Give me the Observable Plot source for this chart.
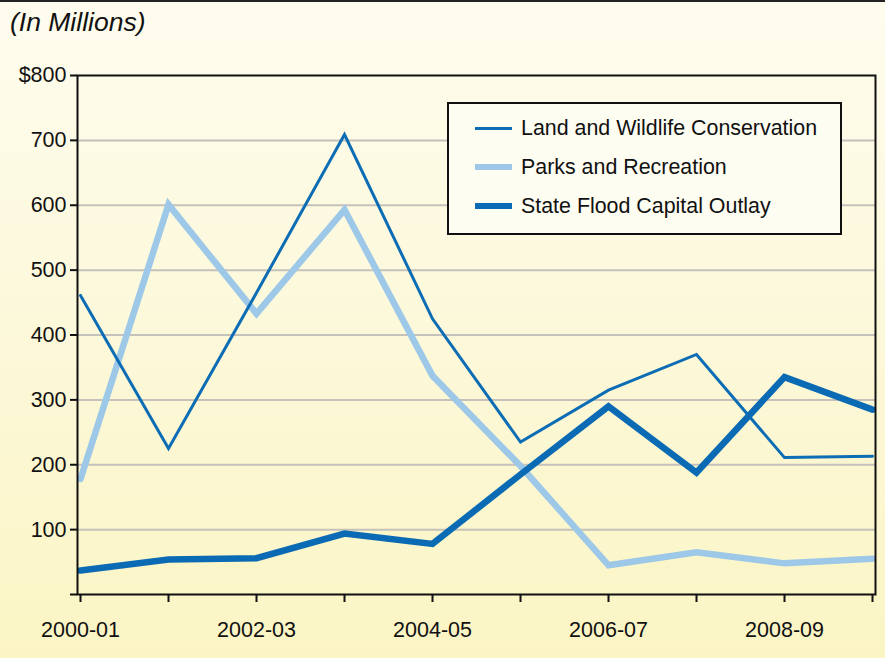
<!DOCTYPE html>
<html>
<head>
<meta charset="utf-8">
<script src="https://cdn.jsdelivr.net/npm/d3@7"></script>
<script src="https://cdn.jsdelivr.net/npm/@observablehq/plot@0.6"></script>
<style>
  html, body { margin: 0; padding: 0; }
  #wrap {
    position: relative; width: 885px; height: 658px; overflow: hidden;
    background: linear-gradient(to bottom, #fefcee 0%, #fcf8d8 55%, #fbf5c4 100%);
    font-family: "Liberation Sans", Arial, Helvetica, sans-serif;
    box-sizing: border-box; border-top: 2px solid #222;
  }
  #title {
    position: absolute; left: 10px; top: 5px; font-size: 26.5px; font-style: italic; color: #111;
  }
  #chart { position: absolute; left: 0; top: 0; }
  #legend {
    position: absolute; left: 447px; top: 100px; width: 391px; height: 129px;
    border: 2px solid #111; background: #fefdf1;
  }
  .row { position: absolute; left: 26px; height: 20px; display: flex; align-items: center; }
  .sw { width: 37px; margin-right: 9px; }
  .lab { font-size: 21.4px; color: #111; white-space: nowrap; }
</style>
</head>
<body>
<div id="wrap">
  <div id="title">(In Millions)</div>
  <div id="chart"></div>
  <div id="legend"></div>
</div>
<script>
// Fiscal years on the x axis
const years = ["2000-01", "2001-02", "2002-03", "2003-04", "2004-05",
               "2005-06", "2006-07", "2007-08", "2008-09", "2009-10"];

// Spending by program, in millions of dollars
const landWildlife = [461, 225, 465, 709, 425, 235, 315, 370, 211, 213];
const parksRecreation = [178, 601, 433, 593, 337, 198, 45, 65, 48, 55];
const stateFlood = [37, 54, 56, 94, 78, 185, 290, 188, 335, 285];

const yTicks = [0, 100, 200, 300, 400, 500, 600, 700, 800];
const gridTicks = [100, 200, 300, 400, 500, 600, 700];

const series = [
  {name: "Parks and Recreation", values: parksRecreation, color: "#9dc8e8", width: 6.5},
  {name: "Land and Wildlife Conservation", values: landWildlife, color: "#0c6db5", width: 3},
  {name: "State Flood Capital Outlay", values: stateFlood, color: "#0a6ab3", width: 6.5}
];
const legendOrder = [1, 0, 2];

const rows = series.flatMap(s => s.values.map((v, i) => ({series: s.name, year: years[i], value: v})));

const lineMarks = series.map(s =>
  Plot.line(rows.filter(d => d.series === s.name), {
    x: "year", y: "value", stroke: s.color, strokeWidth: s.width,
    strokeLinejoin: "miter", strokeMiterlimit: 10
  })
);

const chart = Plot.plot({
  width: 885,
  height: 656,
  marginLeft: 77,
  marginRight: 10,
  marginTop: 73,
  marginBottom: 64,
  style: {background: "transparent", fontFamily: "Liberation Sans, Arial, sans-serif", color: "#111"},
  x: {type: "point", domain: years, padding: 0},
  y: {domain: [0, 800]},
  marks: [
    Plot.ruleY(gridTicks, {stroke: "#c4c2bb", strokeWidth: 2}),
    ...lineMarks,
    Plot.frame({stroke: "#111", strokeWidth: 2}),
    Plot.axisY(yTicks, {
      tickSize: 7, tickPadding: 4, stroke: "#111", strokeWidth: 2, fontSize: 21.5,
      tickFormat: d => d === 0 ? "" : d === 800 ? "$800" : String(d), label: null
    }),
    Plot.axisX(years, {
      tickSize: 8, tickPadding: 19, stroke: "#111", strokeWidth: 2, fontSize: 21.5,
      tickFormat: (d, i) => i % 2 === 0 ? d : "", label: null
    })
  ]
});
document.getElementById("chart").append(chart);

// Legend
const legend = document.getElementById("legend");
const rowTops = [14, 53, 92];
legendOrder.forEach((k, j) => {
  const s = series[k];
  const row = document.createElement("div");
  row.className = "row";
  row.style.top = rowTops[j] + "px";
  const sw = document.createElement("div");
  sw.className = "sw";
  sw.style.height = (s.width === 3 ? 3 : 6) + "px";
  sw.style.background = s.color;
  const lab = document.createElement("span");
  lab.className = "lab";
  lab.textContent = s.name;
  row.append(sw, lab);
  legend.append(row);
});
</script>
</body>
</html>
